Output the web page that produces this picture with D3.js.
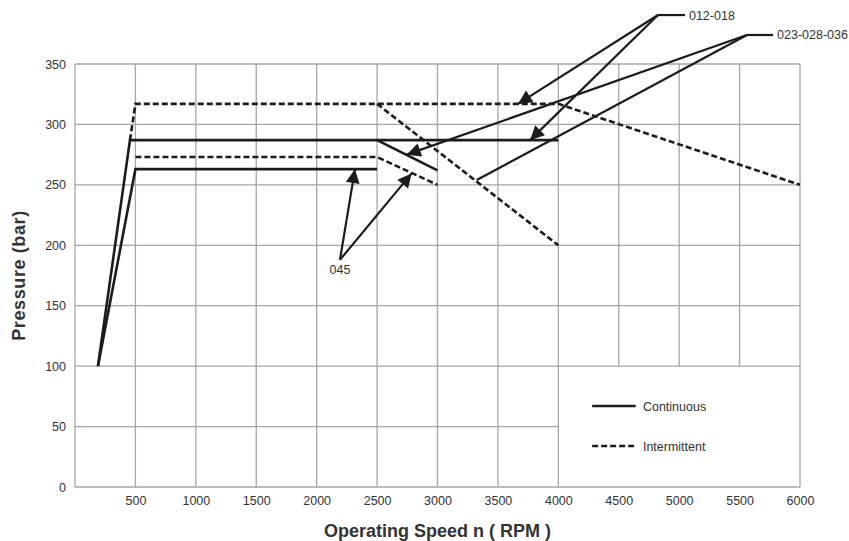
<!DOCTYPE html>
<html>
<head>
<meta charset="utf-8">
<title>Pressure vs Operating Speed</title>
<script src="https://d3js.org/d3.v7.min.js"></script>
<style>
  body { margin: 0; background: #fff; }
  svg text { font-family: "Liberation Sans", Arial, Helvetica, sans-serif; fill: #333; }
</style>
</head>
<body>
<div id="vis"></div>
<script>
// 刻度
const xTicks = [500, 1000, 1500, 2000, 2500, 3000, 3500, 4000, 4500, 5000, 5500, 6000]
const yTicks = [0, 50, 100, 150, 200, 250, 300, 350]

// 曲线 [rpm, bar]
const contMain = [[190, 100], [455, 287], [4000, 287]]
const contBranch = [[2500, 287], [3000, 262]]
const intMain = [[455, 287], [500, 317], [4000, 317], [6000, 250]]
const intBranch = [[2500, 317], [4000, 200]]
const cont045 = [[190, 100], [500, 263], [2500, 263]]
const int045 = [[500, 273], [2500, 273], [3000, 250]]

// 标注: 名称, 起点, 引线终点, 指向点
const calloutNames = ['012-018', '023-028-036', '045']
const calloutAnchors = [[4825, 390.5], [5561, 374], [2193, 188]]
const calloutLeaders = [[5048, 390.5], [5777, 374], null]
const calloutTargets = [
  [[3666, 317, true], [3766, 287, true]],
  [[2745, 275, true], [3324, 254, false]],
  [[2317, 263, true], [2786, 259.5, true]]
]

const legendNames = ['Continuous', 'Intermittent']

const W = 849, H = 541
const M = { left: 75, right: 49, top: 64, bottom: 54 }
const svg = d3.select('#vis').append('svg').attr('width', W).attr('height', H)

const x = d3.scaleLinear().domain([0, 6000]).range([M.left, W - M.right])
const y = d3.scaleLinear().domain([0, 350]).range([H - M.bottom, M.top])

const GRID = '#a6a6a6'
const INK = '#1c1c1c'

// 网格
const grid = svg.append('g').attr('stroke', GRID).attr('stroke-width', 1.3)
grid.selectAll('.vx').data(xTicks).join('line')
  .attr('x1', d => x(d)).attr('x2', d => x(d))
  .attr('y1', y(350)).attr('y2', d => (d > 4000 && d < 6000) ? y(100) : y(0))
grid.selectAll('.hy').data(yTicks).join('line')
  .attr('x1', x(0)).attr('x2', d => d === 50 ? x(4000) : x(6000))
  .attr('y1', d => y(d)).attr('y2', d => y(d))
grid.append('line').attr('x1', x(0)).attr('x2', x(0)).attr('y1', y(0)).attr('y2', y(350))

// 坐标轴文字
const xAxis = svg.append('g')
  .attr('transform', `translate(0,${y(0)})`)
  .call(d3.axisBottom(x).tickValues(xTicks).tickFormat(d3.format('d')).tickSize(0).tickPadding(9))
  .call(g => g.select('.domain').remove())
xAxis.selectAll('text').attr('font-size', 12.5).attr('font-family', null).attr('fill', '#333')

const yAxis = svg.append('g')
  .attr('transform', `translate(${x(0)},0)`)
  .call(d3.axisLeft(y).tickValues(yTicks).tickFormat(d3.format('d')).tickSize(0).tickPadding(9))
  .call(g => g.select('.domain').remove())
yAxis.selectAll('text').attr('font-size', 12.5).attr('font-family', null).attr('fill', '#333')

svg.append('text')
  .attr('x', (x(0) + x(6000)) / 2).attr('y', 537)
  .attr('text-anchor', 'middle').attr('font-size', 18).attr('font-weight', 'bold')
  .attr('fill', '#222')
  .text('Operating Speed n ( RPM )')
svg.append('text')
  .attr('transform', `translate(25,${(y(0) + y(350)) / 2}) rotate(-90)`)
  .attr('text-anchor', 'middle').attr('font-size', 18).attr('font-weight', 'bold')
  .attr('letter-spacing', 0.6).attr('fill', '#222')
  .text('Pressure (bar)')

// 曲线
const line = d3.line().x(d => x(d[0])).y(d => y(d[1]))
const curves = svg.append('g').attr('fill', 'none').attr('stroke', INK).attr('stroke-width', 2.6)
;[contMain, contBranch, cont045].forEach(d => {
  curves.append('path').datum(d).attr('d', line)
})
;[intMain, intBranch, int045].forEach(d => {
  curves.append('path').datum(d).attr('d', line).attr('stroke-dasharray', '6,3')
})

// 箭头
svg.append('defs').append('marker')
  .attr('id', 'arrow').attr('viewBox', '0 0 10 10')
  .attr('refX', 10).attr('refY', 5)
  .attr('markerWidth', 16).attr('markerHeight', 14)
  .attr('markerUnits', 'userSpaceOnUse').attr('orient', 'auto')
  .append('path').attr('d', 'M0,0L10,5L0,10Z').attr('fill', INK)

const callouts = svg.append('g').attr('stroke', INK).attr('stroke-width', 2.2)
calloutNames.forEach((name, i) => {
  const a = calloutAnchors[i]
  calloutTargets[i].forEach(t => {
    const l = callouts.append('line')
      .attr('x1', x(a[0])).attr('y1', y(a[1]))
      .attr('x2', x(t[0])).attr('y2', y(t[1]))
    if (t[2]) l.attr('marker-end', 'url(#arrow)')
  })
  const lead = calloutLeaders[i]
  if (lead) {
    callouts.append('line')
      .attr('x1', x(a[0])).attr('y1', y(a[1]))
      .attr('x2', x(lead[0])).attr('y2', y(lead[1]))
    svg.append('text')
      .attr('x', x(lead[0]) + 4).attr('y', y(lead[1]) + 4.5)
      .attr('font-size', 12.5).text(name)
  } else {
    svg.append('text')
      .attr('x', x(a[0])).attr('y', y(a[1]) + 14)
      .attr('text-anchor', 'middle').attr('font-size', 12.5).text(name)
  }
})

// 图例
const legend = svg.append('g')
legendNames.forEach((name, i) => {
  const ly = y(67) + i * 40
  legend.append('line')
    .attr('x1', x(4280)).attr('x2', x(4640)).attr('y1', ly).attr('y2', ly)
    .attr('stroke', INK).attr('stroke-width', 2.6)
    .attr('stroke-dasharray', i === 1 ? '6,3' : null)
  legend.append('text')
    .attr('x', x(4700)).attr('y', ly + 4.5)
    .attr('font-size', 12.5).text(name)
})
</script>
</body>
</html>
